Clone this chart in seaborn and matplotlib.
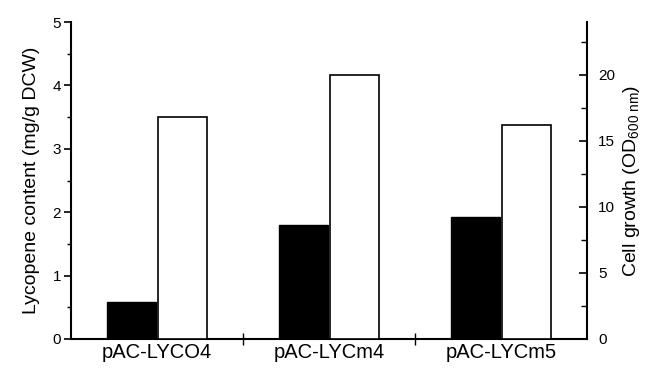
import matplotlib
matplotlib.use("Agg")
import matplotlib.pyplot as plt
import seaborn as sns
import pandas as pd
from matplotlib.ticker import MultipleLocator, FixedLocator

# Data
categories = ["pAC-LYCO4", "pAC-LYCm4", "pAC-LYCm5"]
lycopene = [0.59, 1.80, 1.92]        # mg/g DCW (left axis)
cell_growth = [16.8, 20.0, 16.2]     # OD600 (right axis)
series = ["Lycopene", "Growth"]

sns.set_style("white")
plt.rcParams["font.family"] = ["Liberation Sans", "DejaVu Sans"]
plt.rcParams["mathtext.fontset"] = "custom"
plt.rcParams["mathtext.rm"] = "Liberation Sans"
plt.rcParams["mathtext.it"] = "Liberation Sans:italic"
plt.rcParams["text.color"] = "black"
plt.rcParams["axes.labelcolor"] = "black"
plt.rcParams["xtick.color"] = "black"
plt.rcParams["ytick.color"] = "black"

zeros = [0.0] * len(categories)
# each axis gets both series so the dodge slots are kept; the other series is zero-height
df_lyc = pd.DataFrame({"cat": categories * 2, "val": lycopene + zeros,
                       "series": [series[0]] * 3 + [series[1]] * 3})
df_gro = pd.DataFrame({"cat": categories * 2, "val": zeros + cell_growth,
                       "series": [series[0]] * 3 + [series[1]] * 3})
pal = {"Lycopene": "black", "Growth": "white"}

fig = plt.figure(figsize=(6.51, 3.68), dpi=100)
ax1 = fig.add_axes([0.109, 0.079, 0.793, 0.861])
ax2 = ax1.twinx()

sns.barplot(data=df_lyc, x="cat", y="val", hue="series", hue_order=series,
            order=categories, palette=pal, width=0.6, gap=0.05,
            edgecolor="black", linewidth=1.0, legend=False, ax=ax1, errorbar=None)
sns.barplot(data=df_gro, x="cat", y="val", hue="series", hue_order=series,
            order=categories, palette=pal, width=0.6, gap=0.05,
            edgecolor="black", linewidth=1.2, legend=False, ax=ax2, errorbar=None)

ax1.set_xlim(-0.5, 2.5)
ax1.set_ylim(0, 5)
ax2.set_ylim(0, 24)

# Left axis ticks
ax1.yaxis.set_major_locator(MultipleLocator(1))
ax1.yaxis.set_minor_locator(MultipleLocator(0.5))
ax1.tick_params(axis="y", which="major", direction="out", length=5, width=1.2,
                labelsize=11, pad=2, left=True)
ax1.tick_params(axis="y", which="minor", direction="out", length=3, width=1.0, left=True)

# Right axis ticks (pointing inward)
ax2.yaxis.set_major_locator(MultipleLocator(5))
ax2.yaxis.set_minor_locator(MultipleLocator(2.5))
ax2.tick_params(axis="y", which="major", direction="in", length=6, width=1.2,
                labelsize=11, pad=8, right=True)
ax2.tick_params(axis="y", which="minor", direction="in", length=4, width=1.0, right=True)

# X axis: labels at group centers, ticks between groups
ax1.set_xticks(range(len(categories)))
ax1.set_xticklabels(categories)
ax1.tick_params(axis="x", which="major", length=0, labelsize=14.5, pad=3)
ax1.xaxis.set_minor_locator(FixedLocator([0.5, 1.5]))
ax1.tick_params(axis="x", which="minor", direction="inout", length=8, width=1.0, bottom=True)
ax2.tick_params(axis="x", which="both", bottom=False)

ax1.set_xlabel("")
ax1.set_ylabel("Lycopene content (mg/g DCW)", fontsize=14, labelpad=9)
ax2.set_xlabel("")
ax2.set_ylabel(r"Cell growth (OD$_{600\ \mathrm{nm}}$)", fontsize=14, labelpad=4)

for ax in (ax1, ax2):
    ax.spines["top"].set_visible(False)
    for s in ("left", "right", "bottom"):
        ax.spines[s].set_linewidth(1.5)
        ax.spines[s].set_color("black")
ax1.spines["right"].set_visible(False)
ax2.spines["left"].set_visible(False)
ax2.spines["bottom"].set_visible(False)

fig.savefig("out.png", dpi=100)
